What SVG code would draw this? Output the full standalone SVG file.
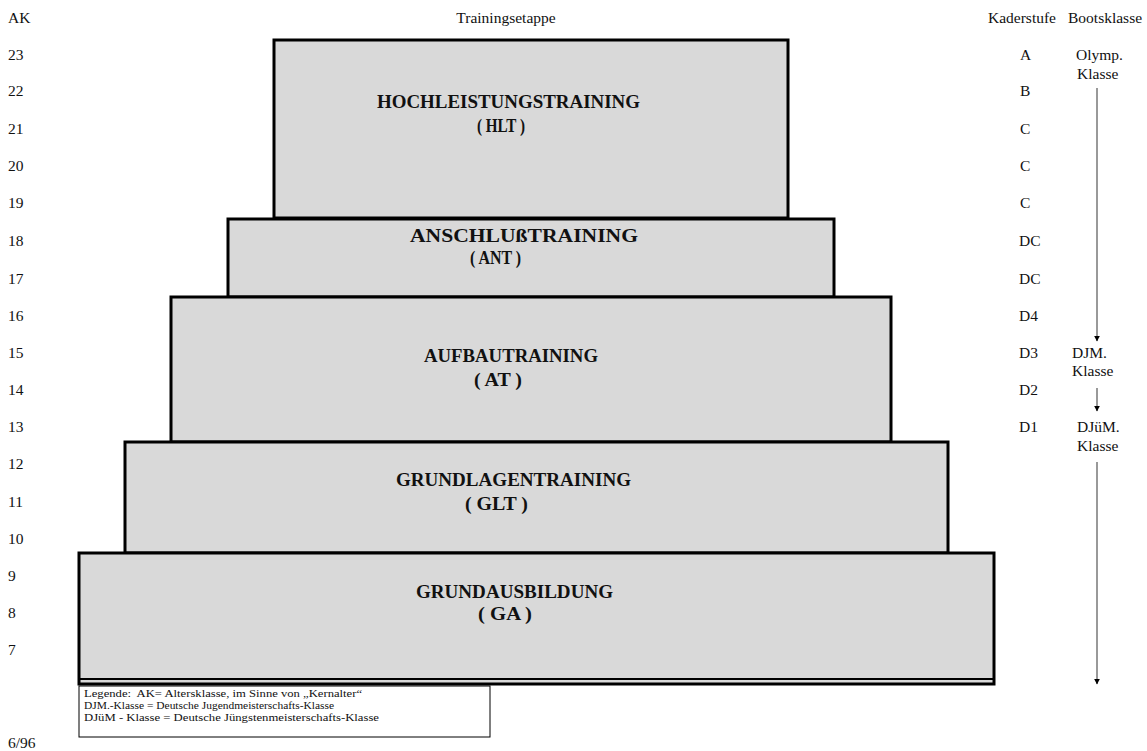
<svg xmlns="http://www.w3.org/2000/svg" width="1147" height="751" viewBox="0 0 1147 751">
<style>
.t{font-family:"Liberation Serif","Times New Roman",serif;font-size:15.5px;fill:#111}
.b{font-family:"Liberation Serif","Times New Roman",serif;font-size:18px;font-weight:bold;fill:#111}
.l{font-family:"Liberation Serif","Times New Roman",serif;font-size:11px;fill:#111}
.box{fill:#d9d9d9;stroke:#000;stroke-width:3}
.arr{stroke:#777;stroke-width:1.5;fill:none;marker-end:url(#ah)}
</style>
<defs>
<marker id="ah" viewBox="0 0 10 10" refX="9" refY="5" markerWidth="6" markerHeight="6" markerUnits="userSpaceOnUse" orient="auto">
<path d="M0,0 L10,5 L0,10 z" fill="#000"/>
</marker>
</defs>
<rect width="1147" height="751" fill="#fff"/>
<g id="headers">
<text class="t" x="8" y="23">AK</text>
<text class="t" x="506" y="23" text-anchor="middle">Trainingsetappe</text>
<text class="t" x="988" y="23">Kaderstufe</text>
<text class="t" x="1068" y="23">Bootsklasse</text>
</g>
<g id="ak-numbers">
<text class="t" x="8" y="60">23</text>
<text class="t" x="8" y="96">22</text>
<text class="t" x="8" y="134">21</text>
<text class="t" x="8" y="171">20</text>
<text class="t" x="8" y="208">19</text>
<text class="t" x="8" y="246">18</text>
<text class="t" x="8" y="284">17</text>
<text class="t" x="8" y="321">16</text>
<text class="t" x="8" y="358">15</text>
<text class="t" x="8" y="395">14</text>
<text class="t" x="8" y="432">13</text>
<text class="t" x="8" y="469">12</text>
<text class="t" x="8" y="507">11</text>
<text class="t" x="8" y="544">10</text>
<text class="t" x="8" y="581">9</text>
<text class="t" x="8" y="618">8</text>
<text class="t" x="8" y="655">7</text>
</g>
<g id="kaderstufe">
<text class="t" x="1020" y="60">A</text>
<text class="t" x="1020" y="96">B</text>
<text class="t" x="1020" y="134">C</text>
<text class="t" x="1020" y="171">C</text>
<text class="t" x="1020" y="208">C</text>
<text class="t" x="1019" y="246">DC</text>
<text class="t" x="1019" y="284">DC</text>
<text class="t" x="1019" y="321">D4</text>
<text class="t" x="1019" y="358">D3</text>
<text class="t" x="1019" y="395">D2</text>
<text class="t" x="1019" y="432">D1</text>
</g>
<g id="bootsklasse">
<text class="t" x="1076" y="60">Olymp.</text>
<text class="t" x="1077" y="79">Klasse</text>
<text class="t" x="1072" y="358">DJM.</text>
<text class="t" x="1072" y="376">Klasse</text>
<text class="t" x="1077" y="432">DJüM.</text>
<text class="t" x="1077" y="451">Klasse</text>
</g>
<g id="connectors">
<line class="arr" x1="1097" y1="88" x2="1097" y2="341"/>
<line class="arr" x1="1097" y1="388" x2="1097" y2="411"/>
<line class="arr" x1="1097" y1="462" x2="1097" y2="684"/>
</g>
<g id="hlt">
<rect class="box" x="274" y="40" width="514" height="178"/>
<text class="b" x="377" y="108" textLength="263" lengthAdjust="spacingAndGlyphs">HOCHLEISTUNGSTRAINING</text>
<text class="b" x="477" y="132" textLength="48" lengthAdjust="spacingAndGlyphs">( HLT )</text>
</g>
<g id="ant">
<rect class="box" x="228" y="219" width="606" height="78"/>
<text class="b" x="410" y="242" textLength="228" lengthAdjust="spacingAndGlyphs">ANSCHLUßTRAINING</text>
<text class="b" x="470" y="264" textLength="51" lengthAdjust="spacingAndGlyphs">( ANT )</text>
</g>
<g id="at">
<rect class="box" x="171" y="297" width="720" height="145"/>
<text class="b" x="424" y="362" textLength="174" lengthAdjust="spacingAndGlyphs">AUFBAUTRAINING</text>
<text class="b" x="474" y="386" textLength="48" lengthAdjust="spacingAndGlyphs">( AT )</text>
</g>
<g id="glt">
<rect class="box" x="125" y="442" width="823" height="111"/>
<text class="b" x="396" y="486" textLength="235" lengthAdjust="spacingAndGlyphs">GRUNDLAGENTRAINING</text>
<text class="b" x="465" y="510" textLength="63" lengthAdjust="spacingAndGlyphs">( GLT )</text>
</g>
<g id="ga">
<rect class="box" x="79" y="553" width="915" height="131"/>
<line x1="79" y1="679" x2="994" y2="679" stroke="#000" stroke-width="2"/>
<text class="b" x="416" y="598" textLength="197" lengthAdjust="spacingAndGlyphs">GRUNDAUSBILDUNG</text>
<text class="b" x="478" y="620" textLength="54" lengthAdjust="spacingAndGlyphs">( GA )</text>
</g>
<g id="legend">
<rect x="79" y="686" width="411" height="51" fill="#fff" stroke="#000" stroke-width="1"/>
<text class="l" x="84" y="697" textLength="278" lengthAdjust="spacingAndGlyphs" xml:space="preserve">Legende:  AK= Altersklasse, im Sinne von „Kernalter“</text>
<text class="l" x="84" y="709" textLength="250" lengthAdjust="spacingAndGlyphs">DJM.-Klasse = Deutsche Jugendmeisterschafts-Klasse</text>
<text class="l" x="84" y="721" textLength="295" lengthAdjust="spacingAndGlyphs">DJüM - Klasse = Deutsche Jüngstenmeisterschafts-Klasse</text>
</g>
<text class="t" x="8" y="748">6/96</text>
</svg>
